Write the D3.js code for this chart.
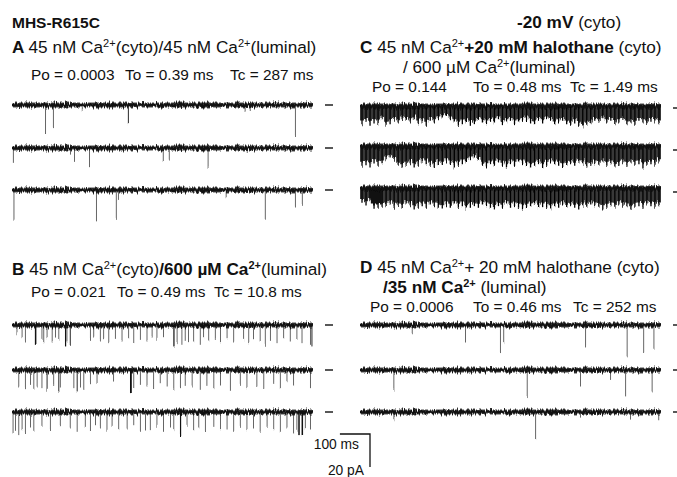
<!DOCTYPE html>
<html lang="en">
<head>
<meta charset="utf-8">
<title>MHS-R615C single channel recordings</title>
<script src="https://d3js.org/d3.v7.min.js"></script>
<style>
body { margin: 0; background: #fff; }
svg { font-family: "Liberation Sans", Arial, Helvetica, sans-serif; fill: #111; }
.ttl { font-size: 17.2px; }
.stat { font-size: 15.4px; }
.sb { font-size: 13.8px; }
</style>
</head>
<body>
<svg width="677" height="477"></svg>
<script>
// each sweep is ~1 s, openings are downward deflections [time ms, amplitude pA, duration ms]
var traceMs = 1000;
var scaleMs = 100, scalePA = 20;

var eventsA = [
  [[110,18],[136,14],[232,4],[385,11,2],[773,4],[790,3],[940,19]],
  [[3,9],[193,4],[206,9],[256,11],[501,8.5],[521,7],[650,12],[780,3]],
  [[5,18],[279,19],[345,17.5],[352,6],[710,5],[840,18],[940,10],[963,9]]
];

var eventsB = [
  [[15,5],[32,8],[43,10],[76,12,5],[98,9],[104,11],[115,8],[132,10],[143,7],[154,9],[176,13,4],[181,10],[192,12,3],
   [259,9],[270,7],[292,10],[303,8],[320,11],[342,9],[364,10],[386,8],[403,11],[425,9],[447,10],[464,7],[480,9],
   [502,8],[536,13,4],[547,11],[563,12],[574,9],[585,11],[602,10],[624,12],[635,8],[652,10],[674,9],[691,11],
   [713,8],[735,10],[768,9],[785,11],[801,8],[823,10],[840,12],[857,9],[879,11],[901,8],[923,10],[945,9],
   [962,11],[990,12],[995,13,3]],
  [[21,10],[43,11],[60,9],[71,12],[82,10],[98,11],[115,12,2],[137,9],[154,13,2],[159,10],[204,11],[215,13,2],
   [226,10],[237,12],[259,8],[281,9],[336,7],[392,14,6],[403,11],[425,9],[447,10],[469,11],[491,8],[514,10],
   [536,12],[558,11],[574,9],[597,10],[624,12],[646,9],[669,11],[691,10],[724,12],[757,9],[779,11],[812,10],
   [835,12],[868,9],[890,11],[912,8],[934,10],[990,11]],
  [[2,13],[10,12],[21,14],[32,11],[43,13],[60,10],[71,12],[98,9],[126,11],[159,8],[192,10],[215,12],[242,9],
   [259,11],[276,8],[292,10],[314,12],[331,9],[353,11],[381,10],[403,8],[425,12],[442,10],[458,11],[480,9],
   [502,12],[525,10],[536,11],[558,14,4],[580,9],[602,11],[619,10],[641,12],[669,9],[691,11],[713,10],[735,12],
   [757,9],[779,11],[801,10],[823,12],[846,9],[868,11],[890,12],[912,10],[934,13],[945,12],[951,14,5],
   [962,14,5],[973,11],[990,10]]
];

// panel C flickers too fast to resolve: lower edge of the flicker band, pA, evenly spaced over the sweep
var envelopeC = [
  [11,9,12,10,11,8,12,11,9,10,8,9,10,8,11,10,12,9,10,8,7,6,8,10,12,11,10,12,11,9,
   10,11,9,10,8,11,10,9,11,10,9,8,10,11,9,10,8,9,11,10,9,11,12,10,12,13,12,11,9,10,
   8,10,9,11,10,9,11,10,12,9,10,11,9,10,11],
  [12,11,13,10,12,11,8,7,9,12,13,12,11,13,12,10,11,12,13,11,12,10,11,13,12,11,10,8,7,9,
   12,13,11,12,10,12,13,11,12,10,11,12,13,12,11,13,12,10,11,12,13,12,11,12,10,11,13,12,11,12,
   10,12,11,13,12,11,12,10,12,11,13,12,11,12,10],
  [9,10,8,12,12,12,11,10,12,11,12,10,11,13,12,11,12,10,11,12,13,11,12,10,12,11,13,12,11,12,
   10,11,12,13,11,12,10,12,11,12,13,12,11,10,12,11,12,13,11,12,10,12,11,12,13,11,12,10,11,12,
   13,12,11,12,10,12,11,13,12,11,12,10,11,12,11]
];
// sustained openings in C: [sweep, start ms, end ms, pA]
var longOpenC = [[2,36,72,10]];

var eventsD = [
  [[172,5],[349,10],[465,17],[476,11],[748,13],[886,19],[941,16],[975,15]],
  [[111,12],[554,17],[731,10],[831,6],[881,16],[969,13]],
  [[111,5],[582,17],[731,4],[897,4],[991,5]]
];

var titleA = [["A ","b"],["45 nM Ca"],["2+","s"],["(cyto)/45 nM Ca"],["2+","s"],["(luminal)"]];
var titleB = [["B ","b"],["45 nM Ca"],["2+","s"],["(cyto)"],["/600 \u00b5M Ca","b"],["2+","bs"],["(luminal)"]];
var titleC1 = [["C ","b"],["45 nM Ca"],["2+","s"],["+20 mM halothane","b"],[" (cyto)"]];
var titleC2 = [["/ 600 \u00b5M Ca"],["2+","s"],["(luminal)"]];
var titleD1 = [["D ","b"],["45 nM Ca"],["2+","s"],["+ 20 mM halothane (cyto)"]];
var titleD2 = [["/35 nM Ca","b"],["2+","bs"],[" (luminal)"]];
var statsA = ["Po = 0.0003", "To = 0.39 ms", "Tc = 287 ms"];
var statsB = ["Po = 0.021", "To = 0.49 ms", "Tc = 10.8 ms"];
var statsC = ["Po = 0.144", "To = 0.48 ms", "Tc = 1.49 ms"];
var statsD = ["Po = 0.0006", "To = 0.46 ms", "Tc = 252 ms"];

var svg = d3.select("svg");

var xs = d3.scaleLinear().domain([0, traceMs]).range([0, 301]);
var ys = d3.scaleLinear().domain([0, scalePA]).range([0, 33]);

// slight vertical jitter so the baseline reads as recording noise
var f = svg.append("defs").append("filter")
  .attr("id", "jit").attr("filterUnits", "userSpaceOnUse")
  .attr("x", -10).attr("y", -12).attr("width", 330).attr("height", 60)
  .attr("color-interpolation-filters", "sRGB");
f.append("feTurbulence").attr("type", "fractalNoise")
  .attr("baseFrequency", "0.9 0.1").attr("numOctaves", 2).attr("result", "n");
f.append("feColorMatrix").attr("in", "n").attr("type", "matrix")
  .attr("values", "1 0 0 0 0  0 0 0 0 0.5  0 0 0 0 0  0 0 0 0 1").attr("result", "m");
f.append("feDisplacementMap").attr("in", "SourceGraphic").attr("in2", "m")
  .attr("scale", 7).attr("xChannelSelector", "G").attr("yChannelSelector", "R");

function rich(x, y, segs, cls) {
  var t = svg.append("text").attr("x", x).attr("y", y).attr("class", cls)
    .style("white-space", "pre");
  var up = false;
  segs.forEach(function(s) {
    var sp = t.append("tspan").text(s[0]);
    var st = s[1] || "";
    if (st.indexOf("b") >= 0) sp.attr("font-weight", "bold");
    if (st.indexOf("s") >= 0) {
      sp.attr("font-size", "11px");
      if (!up) { sp.attr("dy", -6); up = true; }
    } else if (up) { sp.attr("dy", 6); up = false; }
  });
}

function stats(xsPos, y, arr) {
  arr.forEach(function(s, i) {
    svg.append("text").attr("class", "stat").attr("x", xsPos[i]).attr("y", y).text(s);
  });
}

svg.append("text").attr("x", 12).attr("y", 28).attr("font-weight", "bold")
  .style("font-size", "15.5px").text("MHS-R615C");
rich(517, 28, [["-20 mV","b"],[" (cyto)"]], "ttl");

rich(12, 53, titleA, "ttl");
stats([31, 125, 230], 80, statsA);
rich(12, 275, titleB, "ttl");
stats([31, 117, 214], 297, statsB);
rich(360, 52.5, titleC1, "ttl");
rich(403, 72.5, titleC2, "ttl");
stats([372, 473, 570], 91.5, statsC);
rich(360, 273, titleD1, "ttl");
rich(383, 293, titleD2, "ttl");
stats([370, 473, 573], 312, statsD);

var panels = [
  {x0: 12, base: [105, 148, 190], ticks: [105, 148, 190], ev: eventsA},
  {x0: 12, base: [325, 370, 412], ticks: [325, 370, 412], ev: eventsB},
  {x0: 360, base: [106, 146, 188], ticks: [108, 150, 192], env: envelopeC},
  {x0: 360, base: [325, 370, 412], ticks: [325, 370, 412], ev: eventsD}
];

panels.forEach(function(p) {
  p.base.forEach(function(b, i) {
    var g = svg.append("g").attr("transform", "translate(" + p.x0 + "," + b + ")")
      .attr("filter", "url(#jit)");

    if (p.env) {
      var vals = p.env[i], step = traceMs / vals.length;
      var pts = vals.map(function(v, k) { return [k * step, v]; });
      pts.push([traceMs, vals[vals.length - 1]]);
      g.append("path").datum(pts)
        .attr("fill", "#383838")
        .attr("d", d3.area().curve(d3.curveStepAfter)
          .x(function(d) { return xs(d[0]); })
          .y0(0).y1(function(d) { return ys(d[1]) * 0.8; }));
      g.selectAll("line.fl").data(vals).enter().append("line")
        .attr("x1", function(v, k) { return xs(k * step + step / 2); })
        .attr("x2", function(v, k) { return xs(k * step + step / 2); })
        .attr("y1", 0).attr("y2", function(v) { return ys(v); })
        .attr("stroke", "#000").attr("stroke-width", 1.3);
      longOpenC.filter(function(d) { return d[0] === i; }).forEach(function(d) {
        g.append("rect").attr("x", xs(d[1])).attr("width", xs(d[2]) - xs(d[1]))
          .attr("y", 0).attr("height", ys(d[3])).attr("fill", "#111");
      });
    } else {
      g.selectAll("rect.ev").data(p.ev[i]).enter().append("rect")
        .attr("x", function(d) { return xs(d[0]); })
        .attr("width", function(d) { return Math.max(0.9, xs(d[2] || 1)); })
        .attr("y", 0)
        .attr("height", function(d) { return ys(d[1]); })
        .attr("fill", function(d) { return d[2] ? "#111" : "#555"; });
    }

    g.append("rect").attr("x", 0).attr("width", xs(traceMs))
      .attr("y", -3).attr("height", 6).attr("fill", "#000").attr("opacity", 0.35);
    g.append("rect").attr("x", 0).attr("width", xs(traceMs))
      .attr("y", -1.8).attr("height", 3.6).attr("fill", "#111");
  });

  // closed-level markers
  var tx = p.x0 + xs(traceMs) + 12;
  p.ticks.forEach(function(t) {
    svg.append("line").attr("x1", tx).attr("x2", tx + 8).attr("y1", t).attr("y2", t)
      .attr("stroke", "#111").attr("stroke-width", 1.4);
  });
});

// scale bar
var sbx = 370, sby = 434;
var sb = svg.append("g").attr("class", "sb");
sb.append("path")
  .attr("d", "M" + (sbx - xs(scaleMs)) + "," + sby + "H" + sbx + "V" + (sby + ys(scalePA)))
  .attr("fill", "none").attr("stroke", "#111").attr("stroke-width", 1.3);
sb.append("text").attr("x", 359).attr("y", 449).attr("text-anchor", "end").text(scaleMs + " ms");
sb.append("text").attr("x", 364).attr("y", 475).attr("text-anchor", "end").text(scalePA + " pA");
</script>
</body>
</html>
